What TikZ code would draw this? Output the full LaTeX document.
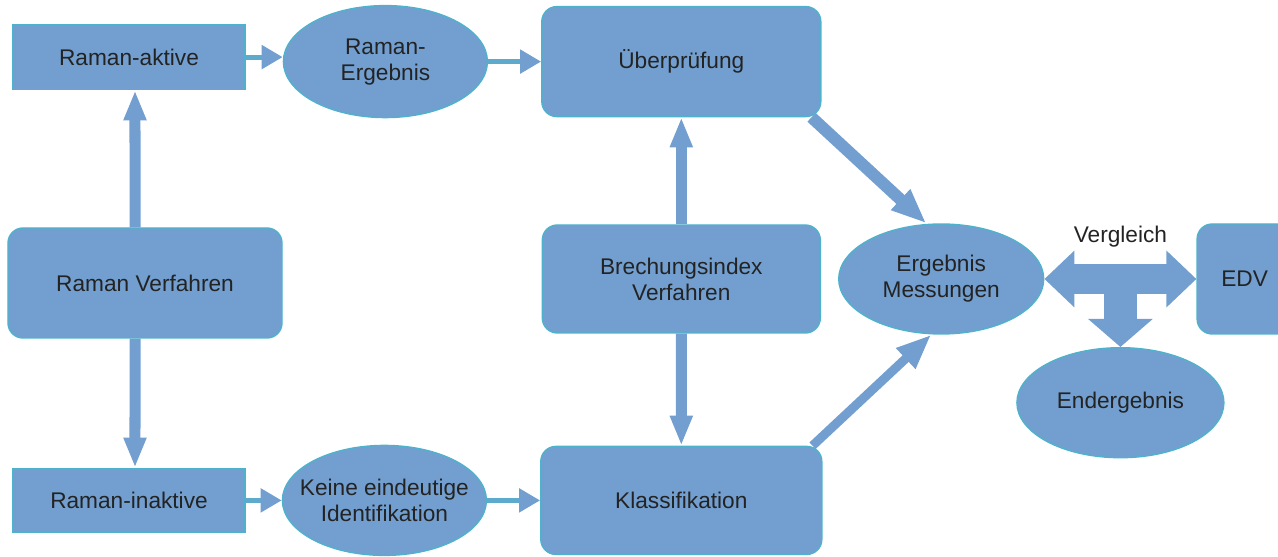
\documentclass[tikz,border=0pt]{standalone}
\usepackage{fontspec}
\setmainfont{Liberation Sans}
\usetikzlibrary{positioning,shapes.geometric,arrows.meta,backgrounds}
\definecolor{boxfill}{RGB}{114,159,207}
\definecolor{boxline}{RGB}{79,178,204}
\definecolor{txtgray}{RGB}{35,35,35}

\begin{document}
\begin{tikzpicture}
[box/.style={draw=boxline, fill=boxfill, line width=0.8pt, text=txtgray,
    align=center, inner sep=0pt, font=\fontsize{12.9}{14.8}\selectfont},
 rbox/.style={box, rounded corners=0.3cm},
 oval/.style={box, ellipse, inner xsep=-0.4cm, inner ysep=-0.2cm},
 fat/.style={draw=boxfill, line width=0.22cm, -{Triangle[length=0.6cm, width=0.42cm]}},
 slant/.style={draw=boxfill, line width=0.24cm, -{Triangle[length=0.7cm, width=0.52cm]}},
 thin/.style={draw=boxline!60!boxfill, line width=0.1cm,
    -{Triangle[length=0.42cm, width=0.46cm, color=boxfill]}},
 wide/.style={draw=boxfill, line width=0.6cm}]
\useasboundingbox (0,0) rectangle (25.56,11.14);
\node[rbox, minimum width=5.48cm, minimum height=2.2cm] (verfahren) at (2.9,5.48) {Raman Verfahren};
\node[box, minimum width=4.64cm, minimum height=1.3cm, above=2.74cm of verfahren, xshift=-0.32cm] (aktive) {Raman-aktive};
\node[box, minimum width=4.64cm, minimum height=1.28cm, below=2.58cm of verfahren, xshift=-0.32cm] (inaktive) {Raman-inaktive};
\node[oval, minimum width=4.08cm, minimum height=2.24cm, right=0.74cm of aktive, yshift=-0.09cm] (ergebnis) {Raman-\\Ergebnis};
\node[rbox, minimum width=5.58cm, minimum height=2.2cm, right=1.06cm of ergebnis] (pruefung) {Überprüfung};
\node[rbox, minimum width=5.56cm, minimum height=2.16cm, below=2.14cm of pruefung] (brechung) {Brechungsindex\\Verfahren};
\node[oval, minimum width=4.1cm, minimum height=2.2cm, right=0.34cm of brechung] (messungen) {Ergebnis\\Messungen};
\node[oval, minimum width=4.08cm, minimum height=2.2cm, right=0.72cm of inaktive] (keine) {Keine eindeutige\\Identifikation};
\node[rbox, minimum width=5.62cm, minimum height=2.16cm, right=1.06cm of keine] (klass) {Klassifikation};
\node[rbox, minimum width=1.9cm, minimum height=2.2cm, right=3.04cm of messungen] (edv) {EDV};
\path (messungen.east) -- coordinate[pos=0.5] (mid) (messungen.east -| edv.west);
\node[oval, minimum width=4.14cm, minimum height=2.2cm, below=1.36cm of mid] (ender) {Endergebnis};

\begin{scope}[on background layer]
\draw[fat] ([xshift=-0.2cm]verfahren.north) -- ([xshift=0.12cm]aktive.south);
\draw[fat] ([xshift=-0.2cm]verfahren.south) -- ([xshift=0.12cm]inaktive.north);
\draw[fat] (brechung.north) -- (pruefung.south);
\draw[fat] (brechung.south) -- (klass.north);
\draw[thin] (aktive.east) -- (aktive.east -| ergebnis.west);
\draw[thin] (ergebnis.east) -- (pruefung.west);
\draw[thin] (inaktive.east) -- (keine.west);
\draw[thin] (keine.east) -- (klass.west);
\draw[slant] ([xshift=-0.2cm]pruefung.south east) -- ([xshift=-0.3cm]messungen.north);
\draw[slant, line width=0.18cm] ([xshift=-0.2cm]klass.north east) -- ([xshift=-0.2cm]messungen.south);
\draw[wide, {Triangle[length=0.6cm, width=1.1cm]}-{Triangle[length=0.6cm, width=1.1cm]}]
  (messungen.east) -- (messungen.east -| edv.west)
  node[midway, yshift=0.84cm, text=txtgray, font=\fontsize{12.9}{14.8}\selectfont] {Vergleich};
\draw[wide, line width=0.66cm, -{Triangle[length=0.56cm, width=1.26cm]}] (mid) -- (ender.north);
\end{scope}
\end{tikzpicture}
\end{document}
